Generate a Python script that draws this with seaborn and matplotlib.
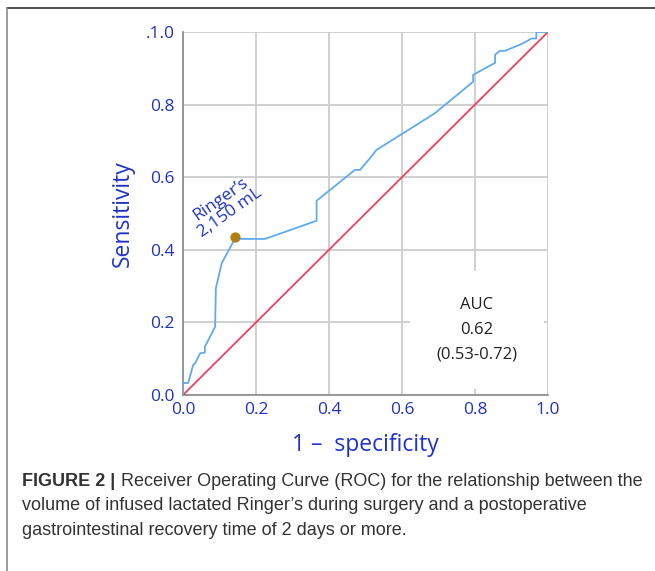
import seaborn as sns
import matplotlib.pyplot as plt
import matplotlib.lines as mlines
import pandas as pd

# ROC curve (1 - specificity, sensitivity)
fpr = [0.0, 0.0, 0.014, 0.028, 0.033, 0.047, 0.06, 0.06, 0.088, 0.09, 0.106, 0.142,
       0.225, 0.366, 0.366, 0.471, 0.485, 0.512, 0.53, 0.69, 0.795, 0.795, 0.855,
       0.855, 0.868, 0.882, 0.928, 0.955, 0.968, 0.968, 1.0]
tpr = [0.0, 0.033, 0.033, 0.083, 0.087, 0.115, 0.117, 0.133, 0.188, 0.294, 0.363, 0.43,
       0.43, 0.48, 0.535, 0.62, 0.62, 0.652, 0.675, 0.776, 0.863, 0.882, 0.915,
       0.937, 0.948, 0.948, 0.967, 0.982, 0.982, 1.0, 1.0]
chance = [0.0, 1.0]
cutoff_x, cutoff_y = 0.142, 0.436
cutoff_label = "Ringer\u2019s\n2,150 mL"
auc_label = "AUC\n0.62\n(0.53-0.72)"
ticks = [0.0, 0.2, 0.4, 0.6, 0.8, 1.0]
xtick_labels = ["0.0", "0.2", "0.4", "0.6", "0.8", "1.0"]
ytick_labels = ["0.0", "0.2", "0.4", "0.6", "0.8", ".1.0"]

blue_txt = "#1f33c8"
roc_df = pd.DataFrame({"fpr": fpr, "tpr": tpr})
ref_df = pd.DataFrame({"x": chance, "y": chance})

sns.set_style("white")
plt.rcParams['font.family'] = ['Open Sans', 'DejaVu Sans']

fig = plt.figure(figsize=(6.55, 5.71), dpi=100)
ax = fig.add_axes([0.2794, 0.3082, 0.5572, 0.6358])

sns.lineplot(data=ref_df, x="x", y="y", ax=ax, color="#f0405c", lw=1.3,
             estimator=None, sort=False, zorder=3)
sns.lineplot(data=roc_df, x="fpr", y="tpr", ax=ax, color="#5fabef", lw=1.3,
             estimator=None, sort=False, zorder=3)
ax.scatter([cutoff_x], [cutoff_y], s=55, color="#b07f12", zorder=4, linewidths=0)

ax.text(0.115, 0.52, cutoff_label, rotation=35, color=blue_txt, fontsize=12.5,
        ha="center", va="center", linespacing=1.05)
ax.text(0.805, 0.18, auc_label, color="#222222", fontsize=12, ha="center",
        va="center", linespacing=1.7, zorder=5,
        bbox=dict(boxstyle="square,pad=1.6", facecolor="white", edgecolor="none"))

ax.set_xlim(0, 1)
ax.set_ylim(0, 1)
ax.set_xticks(ticks)
ax.set_yticks(ticks)
ax.set_xticklabels(xtick_labels)
ax.set_yticklabels(ytick_labels)
ax.tick_params(axis="both", colors=blue_txt, labelsize=12.5, length=0)
ax.tick_params(axis="x", pad=5)
ax.tick_params(axis="y", pad=6)
ax.set_axisbelow(True)
ax.grid(True, color="#cfcfcf", lw=1.4)
for s in ["top", "right"]:
    ax.spines[s].set_visible(False)
for s in ["left", "bottom"]:
    ax.spines[s].set_color("#8a8a8a")
    ax.spines[s].set_linewidth(1.2)
    ax.spines[s].set_zorder(2)
ax.set_xlabel("1 \u2013  specificity", color=blue_txt, fontsize=16.5, labelpad=11)
ax.set_ylabel("Sensitivity", color=blue_txt, fontsize=16.5, labelpad=8)

# page frame lines
fig.add_artist(mlines.Line2D([0.0107, 1.0], [0.986, 0.986], color="#333333", lw=1.2))
fig.add_artist(mlines.Line2D([0.0107, 0.0107], [0.0, 0.986], color="#8a8a8a", lw=1.2))

# caption
cap_font = ['Liberation Sans', 'DejaVu Sans']
cap_size = 13.0
bold = fig.text(0.034, 0.149, "FIGURE 2 |", family=cap_font, fontweight="bold",
                fontsize=cap_size, color="#333333", va="baseline")
ax.annotate(" Receiver Operating Curve (ROC) for the relationship between the",
            xy=(1, 0), xycoords=bold, va="bottom", family=cap_font,
            fontsize=cap_size, color="#333333", annotation_clip=False)
fig.text(0.034, 0.106, "volume of infused lactated Ringer\u2019s during surgery and a postoperative",
         family=cap_font, fontsize=cap_size, color="#333333", va="baseline")
fig.text(0.034, 0.063, "gastrointestinal recovery time of 2 days or more.",
         family=cap_font, fontsize=cap_size, color="#333333", va="baseline")

fig.savefig("out.png", dpi=100)
